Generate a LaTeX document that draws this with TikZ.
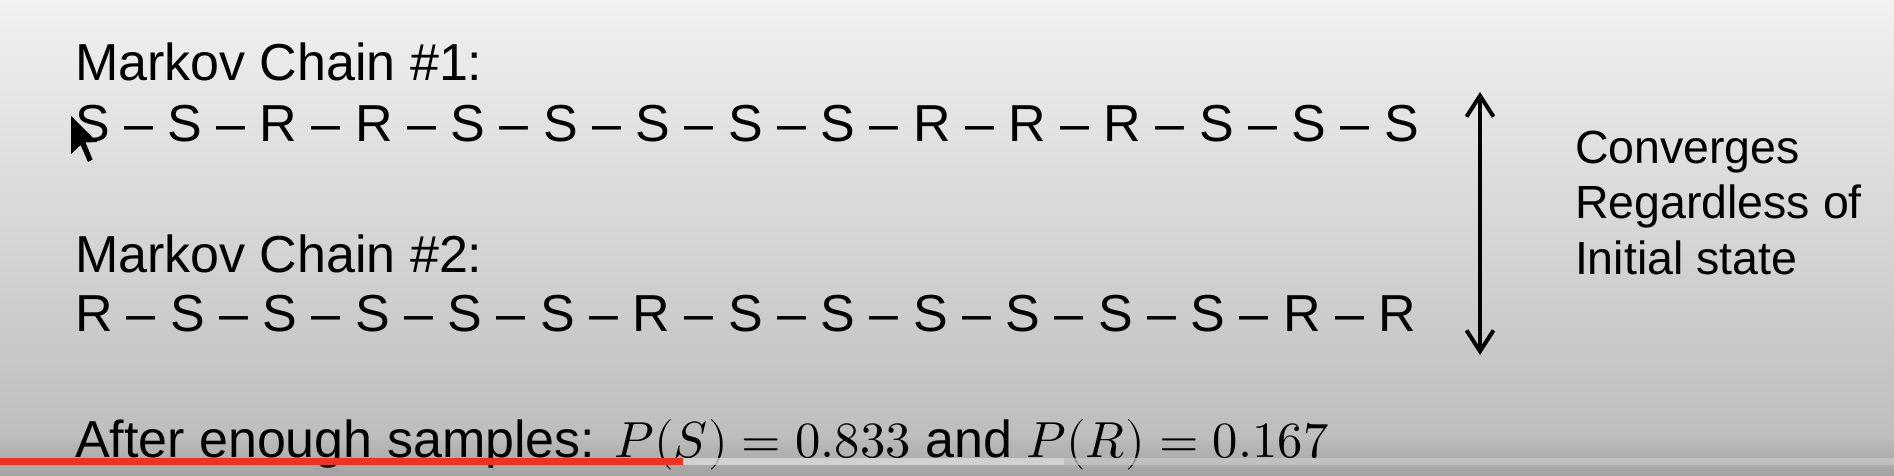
\documentclass[tikz,border=0pt]{standalone}
\usepackage{fontspec}
\usepackage{unicode-math}
\setmainfont{Liberation Sans}
\setmathfont[Scale=0.975]{Latin Modern Math}
\usetikzlibrary{arrows.meta}
\definecolor{bgtop}{HTML}{F1F1F1}
\definecolor{bgbot}{HTML}{B9B9B9}
\definecolor{ytred}{HTML}{EE3224}
\definecolor{ytlight}{HTML}{DEDEDE}
\definecolor{ytrest}{HTML}{CACACA}
\tikzset{
  txt/.style={anchor=base west, inner sep=0pt, outer sep=0pt, text=black,
    font=\fontsize{52}{60}\selectfont},
  sidetxt/.style={txt, font=\fontsize{46.5}{54}\selectfont},
  dblarrow/.style={line width=4pt, {Straight Barb[length=21pt,width=27pt]}-{Straight Barb[length=21pt,width=27pt]}},
}
\begin{document}
\begin{tikzpicture}[x=1pt,y=-1pt]
\useasboundingbox (0,0) rectangle (1894,476);
\shade[top color=bgtop, bottom color=bgbot] (0,0) rectangle (1894,476);
\shade[top color=bgbot, bottom color=bgbot!88!black] (0,440) rectangle (1894,476);

\node[txt] (t1) at (75,80.5) {Markov Chain \#1:};
\node[txt] (c1) at (75,141) {S -- S -- R -- R -- S -- S -- S -- S -- S -- R -- R -- R -- S -- S -- S};
\node[txt] (t2) at (75,272) {Markov Chain \#2:};
\node[txt] (c2) at (75,331) {R -- S -- S -- S -- S -- S -- R -- S -- S -- S -- S -- S -- S -- R -- R};

\coordinate (atop) at (1480,92);
\coordinate (abot) at (1480,355);
\draw[dblarrow] (atop) -- (abot);

\node[sidetxt] (v1) at (1575,163) {Converges};
\node[sidetxt] (v2) at (1575,218) {Regardless of};
\node[sidetxt] (v3) at (1575,274) {Initial state};

\node[txt] (bot) at (75,457) {After enough samples: $P(S) = 0.833$ and $P(R) = 0.167$};

% progress bar
\fill[ytred] (0,458) rectangle (683,464.5);
\fill[ytlight, opacity=0.75] (683,458) rectangle (1064,464.5);
\fill[ytrest, opacity=0.7] (1064,458) rectangle (1894,464.5);

% mouse pointer
\fill[black] (71,116) -- (71,154) -- (80.6,145) -- (88,162) -- (92.6,159.5) -- (85.5,142.5) -- (97,142) -- cycle;
\end{tikzpicture}
\end{document}
